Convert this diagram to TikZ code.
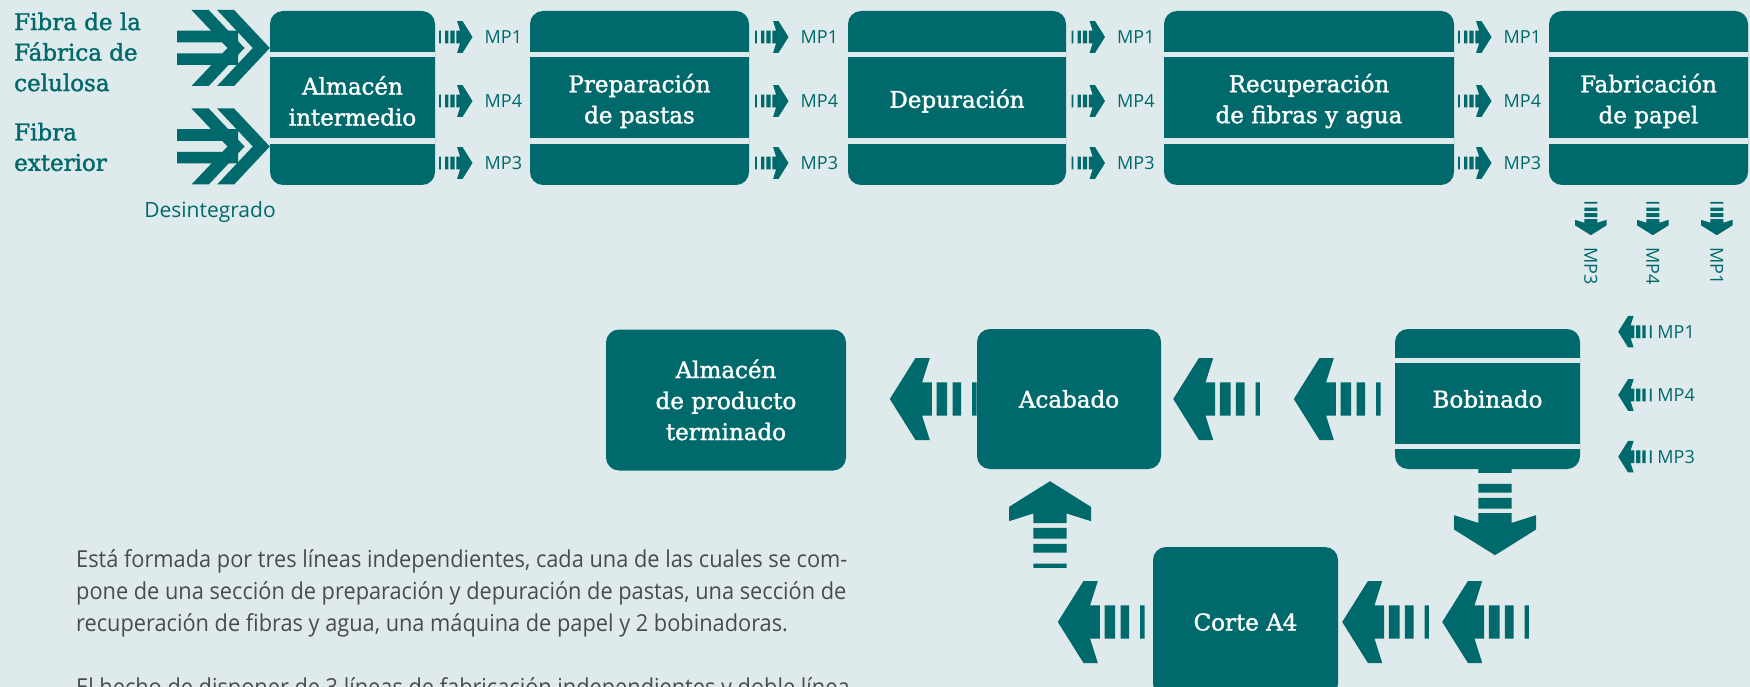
\documentclass[tikz,border=0pt]{standalone}
\usepackage{fontspec}
\usepackage{tikz}
\usetikzlibrary{calc,positioning}
\setmainfont{DejaVu Serif}
\newfontfamily\slabfont[FakeBold=1.5]{DejaVu Serif}
\newfontfamily\mpfont{Open Sans}
\newfontfamily\parfont[FakeStretch=0.93]{Open Sans}
\definecolor{papteal}{RGB}{0,105,108}
\definecolor{papbg}{RGB}{223,234,236}
\definecolor{partext}{RGB}{75,75,75}
\tikzstyle{procbox} = [fill=papteal, rounded corners=13pt, text=white, align=center,
    inner sep=0pt, font=\slabfont\fontsize{23}{31}\selectfont]
\tikzstyle{boxtext} = [text=white, align=center, inner sep=0pt, font=\slabfont\fontsize{23}{31}\selectfont]
\tikzstyle{gapline} = [draw=papbg, line width=5pt]
\tikzstyle{mplabel} = [text=papteal, inner sep=0pt, font=\mpfont\fontsize{18}{20}\selectfont]
\tikzstyle{sidetext} = [text=papteal, align=left, inner sep=0pt, font=\slabfont\fontsize{23}{30.5}\selectfont]
\tikzset{
    bigarrow/.pic={
        \fill[papteal] (0,0) -- (-25.7,41) -- (-40,41) -- (-32.3,16.7) -- (-42,16.7)
            -- (-42,-16.7) -- (-32.3,-16.7) -- (-40,-41) -- (-25.7,-41) -- cycle;
        \fill[papteal] (-46.7,-16.7) rectangle (-57.3,16.7)
            (-62.7,-16.7) rectangle (-71.3,16.7) (-82.3,-16.7) rectangle (-86.7,16.7);
    },
    inchevron/.pic={
        \fill[papteal] (0,0) -- (-35.7,-38) -- (-52.7,-38) -- (-17,0) -- (-52.7,38) -- (-35.7,38) -- cycle;
        \fill[papteal] (-25.3,0) -- (-61,-38) -- (-78.3,-38) -- (-42.3,0) -- (-78.3,38) -- (-61,38) -- cycle;
        \fill[papteal] (-92.7,-17.3) rectangle (-31.7,-5.7) (-92.7,5.3) rectangle (-31.7,17);
    }
}

\begin{document}
\begin{tikzpicture}[x=1pt,y=-1pt]
    \fill[papbg] (0,0) rectangle (1750,687);
    \clip (0,0) rectangle (1750,687);

    % line of the three machines
    \foreach \nm/\cx/\w/\txt in {almint/352.5/165/{Almacén\\intermedio}, prep/639.5/219/{Preparación\\de pastas},
            depu/957/218/{Depuración}, recu/1309/290/{Recuperación\\de fibras y agua},
            fabr/1648.5/199/{Fabricación\\de papel}} {
        \node[procbox, minimum width=\w pt, minimum height=174pt] (\nm) at (\cx,98) {};
        \node[boxtext] (\nm-t) at ([yshift=-3pt]\nm.center) {\txt};
        \draw[gapline] ([yshift=-43.5pt]\nm.north west) -- ([yshift=-43.5pt]\nm.north east);
        \draw[gapline, line width=6pt] ([yshift=-130.5pt]\nm.north west) -- ([yshift=-130.5pt]\nm.north east);
    }
    \foreach \a/\b in {almint/prep,prep/depu,depu/recu,recu/fabr}
        \foreach \k/\y in {1/37,4/101,3/163} {
            \coordinate (m) at ($(\a.east)!.5!(\b.west)$);
            \pic[scale=0.385] at ($(m |- 0,\y)+(-10,0)$) {bigarrow};
            \node[mplabel, anchor=west] at ($(m |- 0,\y)+(2,0)$) {MP\k};
        }
    \foreach \k/\dx in {3/42,4/104,1/168} {
        \pic[rotate=-90, scale=0.385] at ($(fabr.south west)+(\dx,50)$) {bigarrow};
        \node[mplabel, rotate=-90, anchor=west] at ($(fabr.south west)+(\dx,62)$) {MP\k};
    }

    % inputs
    \pic at (almint.west |- 0,48) {inchevron};
    \pic at (almint.west |- 0,146.5) {inchevron};
    \node[sidetext, anchor=west] (celu) at (14,52) {Fibra de la\\Fábrica de\\celulosa};
    \node[sidetext, anchor=west] (exte) at (14,147) {Fibra\\exterior};
    \node[mplabel, font=\mpfont\fontsize{21}{23}\selectfont] (desint) at (210,212) {Desintegrado};

    % finishing
    \node[procbox, minimum width=185pt, minimum height=140pt] (bobin) at (1487.5,399) {Bobinado};
    \node[procbox, minimum width=184pt, minimum height=140pt] (acab) at (1069,399) {Acabado};
    \node[procbox, minimum width=240pt, minimum height=141pt] (almprod) at (726,400) {Almacén\\de producto\\terminado};
    \node[procbox, minimum width=185pt, minimum height=150pt] (corte) at (1245.5,622) {Corte A4};
    \draw[gapline] ([yshift=-32pt]bobin.north west) -- ([yshift=-32pt]bobin.north east);
    \draw[gapline] ([yshift=-118pt]bobin.north west) -- ([yshift=-118pt]bobin.north east);
    \foreach \k/\y in {1/331.7,4/395,3/456.7} {
        \pic[rotate=180, scale=0.385] at ($(bobin.east |- 0,\y)+(38,0)$) {bigarrow};
        \node[mplabel, anchor=west] at ($(bobin.east |- 0,\y)+(77,0)$) {MP\k};
    }
    \pic[rotate=180] at ($(bobin.west)+(-101,0)$) {bigarrow};
    \pic[rotate=180] at ($(acab.east)+(12,0)$) {bigarrow};
    \pic[rotate=180] at ($(acab.west)+(-87,0)$) {bigarrow};
    \pic[rotate=-90] at ($(bobin.south)+(7.5,86)$) {bigarrow};
    \pic[rotate=90] at ($(acab.south)+(-19,12)$) {bigarrow};
    \pic[rotate=180] at ($(corte.east)+(104,0)$) {bigarrow};
    \pic[rotate=180] at ($(corte.east)+(4,0)$) {bigarrow};
    \pic[rotate=180] at ($(corte.west)+(-95,0)$) {bigarrow};

    \node[anchor=north west, align=left, inner sep=0pt, text=partext,
        font=\parfont\fontsize{23.4}{32}\selectfont] (texto) at (76,549)
        {Está formada por tres líneas independientes, cada una de las cuales se com-\\
        pone de una sección de preparación y depuración de pastas, una sección de\\
        recuperación de fibras y agua, una máquina de papel y 2 bobinadoras.\\[32pt]
        El hecho de disponer de 3 líneas de fabricación independientes y doble línea};
\end{tikzpicture}
\end{document}
